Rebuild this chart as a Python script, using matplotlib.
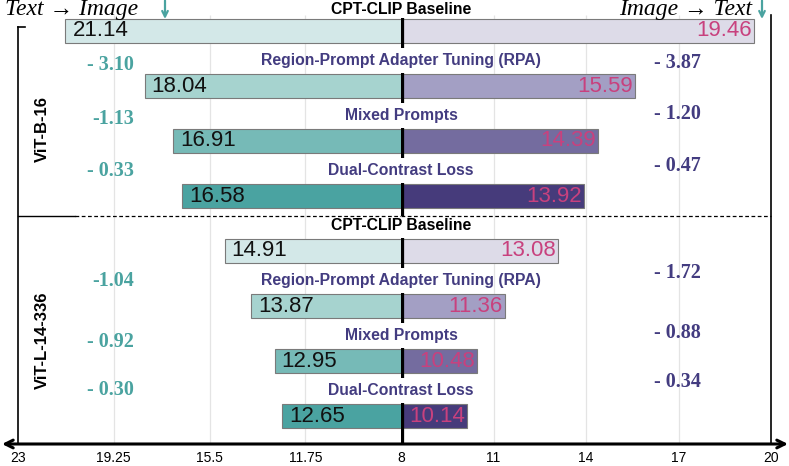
import matplotlib.pyplot as plt
from matplotlib.patches import FancyArrowPatch

# данные
methods = ['CPT-CLIP Baseline', 'Region-Prompt Adapter Tuning (RPA)',
           'Mixed Prompts', 'Dual-Contrast Loss']
models = ['ViT-B-16', 'ViT-L-14-336']
t2i = [[21.14, 18.04, 16.91, 16.58], [14.91, 13.87, 12.95, 12.65]]
i2t = [[19.46, 15.59, 14.39, 13.92], [13.08, 11.36, 10.48, 10.14]]
t2i_delta = [['- 3.10', '-1.13', '- 0.33'], ['-1.04', '- 0.92', '- 0.30']]
i2t_delta = [['- 3.87', '- 1.20', '- 0.47'], ['- 1.72', '- 0.88', '- 0.34']]
left_ticks = [23, 19.25, 15.5, 11.75]
right_ticks = [8, 11, 14, 17, 20]

left_colors = ['#d3e8e8', '#a6d3cf', '#76bab7', '#4aa3a1']
right_colors = ['#dddbe8', '#a39fc4', '#746c9f', '#463b7b']
teal = '#4aa3a0'
purple = '#433c80'
pink = '#c8417e'
edge = '#7a7a7a'

W, H = 789, 466
fig = plt.figure(figsize=(W / 100, H / 100), dpi=100)
bot = (H - 444) / H
ax_l = fig.add_axes([18 / W, bot, 383 / W, 444 / H])
ax_r = fig.add_axes([401 / W, bot, 370 / W, 444 / H])


def r(p):  # пиксель -> номер строки
    return (p - 31) / 55


y_top, y_bot = r(0), r(444)
for ax in (ax_l, ax_r):
    ax.set_ylim(y_bot, y_top)
    ax.set_yticks([])
    for s in ['top', 'left', 'right', 'bottom']:
        ax.spines[s].set_visible(False)
    ax.tick_params(axis='x', length=0, pad=5, labelsize=10)
    ax.patch.set_alpha(0)
ax_l.set_xlim(23, 8)
ax_r.set_xlim(8, 20)
ax_l.set_xticks(left_ticks, [str(t) for t in left_ticks], family='Liberation Sans')
ax_r.set_xticks(right_ticks, [str(t) for t in right_ticks], family='Liberation Sans')

# сетка
ax_l.vlines(left_ticks[1:], r(15), y_bot, color='#e4e4e4', lw=0.9, zorder=0)
ax_r.vlines(right_ticks[1:-1], r(15), y_bot, color='#e4e4e4', lw=0.9, zorder=0)

bh = 24 / 55
left_off = [[-0.38, -0.4, -0.45], [-0.45, -0.35, -0.47]]
right_off = [[-0.42, -0.49, -0.55], [-0.6, -0.51, -0.62]]
for g in range(2):
    for k in range(4):
        y = g * 4 + k
        ax_l.barh(y, t2i[g][k] - 8, left=8, height=bh, color=left_colors[k],
                  edgecolor=edge, lw=0.8, zorder=2)
        ax_r.barh(y, i2t[g][k] - 8, left=8, height=bh, color=right_colors[k],
                  edgecolor=edge, lw=0.8, zorder=2)
        ax_l.annotate(f'{t2i[g][k]:.2f}', (t2i[g][k], y), xytext=(5, 0),
                      textcoords='offset points', ha='left', va='center',
                      fontsize=16, family='Liberation Sans', color='#111111', zorder=3)
        ax_r.annotate(f'{i2t[g][k]:.2f}', (i2t[g][k], y), xytext=(-1.5, 0),
                      textcoords='offset points', ha='right', va='center',
                      fontsize=16, family='Liberation Sans', color=pink, zorder=3)
        lab_px = 31 + 55 * (y - 0.46) if y > 0 else 9
        fig.text(401 / W, 1 - lab_px / H, methods[k],
                 ha='center', va='center', fontsize=11.3, fontweight='bold',
                 family='Liberation Sans',
                 color='black' if k == 0 else purple)
        # центральная черта у каждого столбца
        y_end = y + 0.3 if k < 3 else (r(216) if g == 0 else y_bot)
        ax_r.vlines(8, y - 0.24, y_end, color='black', lw=4.5, zorder=4)
        if k > 0:
            ax_l.text(18.45, y + left_off[g][k - 1], t2i_delta[g][k - 1],
                      ha='right', va='center', fontsize=14.5, fontweight='bold',
                      family='Liberation Serif', color=teal)
            ax_r.text(16.2, y + right_off[g][k - 1], i2t_delta[g][k - 1],
                      ha='left', va='center', fontsize=14.5, fontweight='bold',
                      family='Liberation Serif', color=purple)

# рамка
ax_l.plot([23, 23], [r(27), y_bot], color='black', lw=1.2, clip_on=False)
ax_l.plot([23, 23 - 7 / 25.5], [r(27), r(27)], color='black', lw=1.2, clip_on=False)
ax_r.plot([20, 20], [r(15), y_bot], color='black', lw=1.2, clip_on=False)
ax_l.plot([23, 20.77], [r(216), r(216)], color='black', lw=1.0, clip_on=False)
ax_l.plot([20.77, 8], [r(216), r(216)], color='black', lw=0.9, ls=(0, (3, 2)))
ax_r.plot([8, 20], [r(216), r(216)], color='black', lw=0.9, ls=(0, (3, 2)), clip_on=False)

# подписи моделей
fig.text(42 / W, 1 - 129 / H, models[0], rotation=90, ha='center', va='center',
         fontsize=12, fontweight='bold', family='Liberation Sans')
fig.text(42 / W, 1 - 340 / H, models[1], rotation=90, ha='center', va='center',
         fontsize=12, fontweight='bold', family='Liberation Sans')

# заголовки направлений
fig.text(5 / W, 1 - 10 / H, 'Text → Image', ha='left', va='center', fontsize=17,
         style='italic', family=['Liberation Serif', 'DejaVu Serif'])
fig.text(752 / W, 1 - 10 / H, 'Image → Text', ha='right', va='center', fontsize=17,
         style='italic', family=['Liberation Serif', 'DejaVu Serif'])
for xp in (165, 762):
    fig.add_artist(FancyArrowPatch((xp / W, 1 - 0.5 / H), (xp / W, 1 - 19 / H),
                                   transform=fig.transFigure, arrowstyle='->',
                                   mutation_scale=10, lw=1.6, color=teal,
                                   shrinkA=0, shrinkB=0))

# нижняя ось со стрелками
fig.add_artist(FancyArrowPatch((2 / W, bot), (788 / W, bot), transform=fig.transFigure,
                               arrowstyle='<->', mutation_scale=14, lw=2.2, color='black',
                               shrinkA=0, shrinkB=0))

fig.savefig('out.png', dpi=100)
plt.close(fig)
